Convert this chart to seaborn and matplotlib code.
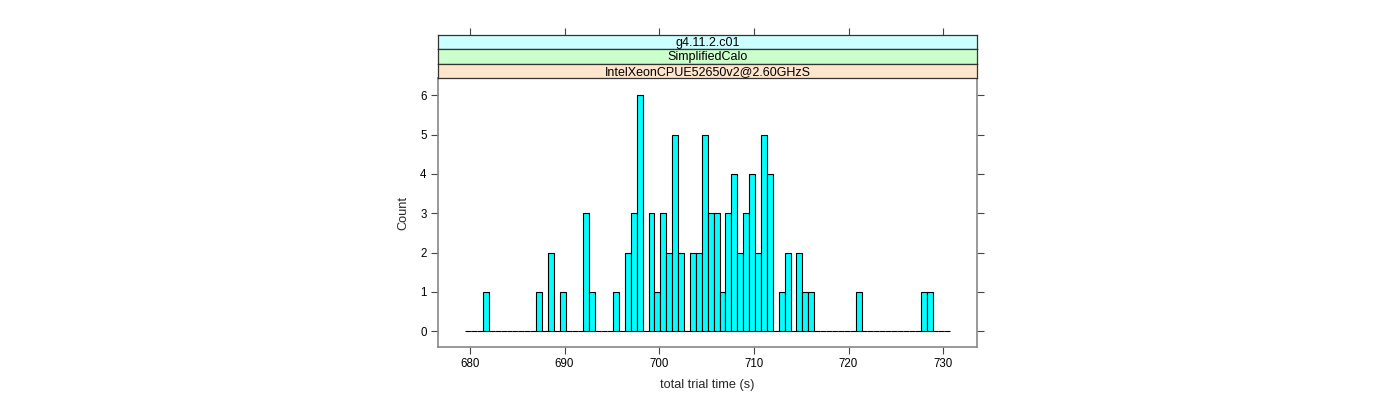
import numpy as np
import pandas as pd
import matplotlib
matplotlib.use("Agg")
import matplotlib.pyplot as plt
import seaborn as sns

# ---- data (bin centres and counts) ----
bin_centers = [681.6875, 687.3125, 688.5625, 689.8125, 692.3125, 692.9375,
               695.4375, 696.6875, 697.3125, 697.9375, 699.1875, 699.8125,
               700.4375, 701.0625, 701.6875, 702.3125, 703.5625, 704.1875,
               704.8125, 705.4375, 706.0625, 706.6875, 707.3125, 707.9375,
               708.5625, 709.1875, 709.8125, 710.4375, 711.0625, 711.6875,
               712.9375, 713.5625, 714.8125, 715.4375, 716.0625, 721.0625,
               727.9375, 728.5625]
counts = [1, 1, 2, 1, 3, 1,
          1, 2, 3, 6, 3, 1,
          3, 2, 5, 2, 2, 2,
          5, 3, 3, 1, 3, 4,
          2, 3, 4, 2, 5, 4,
          1, 2, 2, 1, 1, 1,
          1, 1]
strip_labels = ["g4.11.2.c01", "SimplifiedCalo", "IntelXeonCPUE52650v2@2.60GHzS"]
strip_colors = ["#CCFFFF", "#CCFFCC", "#FFE5CC"]
x_ticks = [680, 690, 700, 710, 720, 730]
y_ticks = [0, 1, 2, 3, 4, 5, 6]
x_label = "total trial time (s)"
y_label = "Count"

break_start, break_width, n_bins = 679.5, 0.625, 82
edges = (break_start + break_width * np.arange(n_bins + 1)).tolist()

df = pd.DataFrame({"time": bin_centers, "count": counts})

sns.set_style("white")
plt.rcParams["font.family"] = ["Liberation Sans", "DejaVu Sans"]

W, H = 1400, 400
fig = plt.figure(figsize=(W / 100, H / 100), dpi=100)

left, right = 437.7, 977.3
p_bottom, p_top = 347.3, 78.3
ax = fig.add_axes([left / W, 1 - p_bottom / H, (right - left) / W, (p_bottom - p_top) / H])

sns.histplot(data=df, x="time", weights="count", bins=edges, stat="count",
             color="#00FFFF", edgecolor="black", linewidth=0.8, alpha=1.0, ax=ax)

ax.set_xlim(676.6, 733.6)
ax.set_ylim(-0.41, 6.43)
ax.set_xticks(x_ticks)
ax.set_yticks(y_ticks)
ax.set_xticklabels([str(t) for t in x_ticks], fontsize=8.3)
ax.set_yticklabels([str(t) for t in y_ticks], fontsize=8.3)
ax.tick_params(axis="both", which="both", direction="out", length=5, width=0.8,
               color="#444444", pad=3, labelcolor="black")
ax.tick_params(axis="y", right=True, left=True, labelright=False)
ax.tick_params(axis="x", bottom=True, top=False)
for s in ax.spines.values():
    s.set_color("#888888")
    s.set_linewidth(1.2)
ax.set_xlabel(x_label, fontsize=9.2, labelpad=6)
ax.set_ylabel(y_label, fontsize=9.2, labelpad=8)

# strips
strip_edges = [34.7, 49.3, 63.7, 78.3]
for i, (lab, col) in enumerate(zip(strip_labels, strip_colors)):
    top, bot = strip_edges[i], strip_edges[i + 1]
    sax = fig.add_axes([left / W, 1 - bot / H, (right - left) / W, (bot - top) / H])
    sax.set_facecolor(col)
    sax.set_xlim(ax.get_xlim())
    sax.set_ylim(0, 1)
    sax.set_yticks([])
    if i == 0:
        sax.set_xticks(x_ticks)
        sax.tick_params(axis="x", top=True, bottom=False, labeltop=False, labelbottom=False,
                        direction="out", length=5, width=0.8, color="#444444")
    else:
        sax.set_xticks([])
    for s in sax.spines.values():
        s.set_color("#333333")
        s.set_linewidth(0.9)
    sax.text(0.5, 0.45, lab, transform=sax.transAxes, ha="center", va="center",
             fontsize=9, color="black")

fig.savefig("out.png", dpi=100)
